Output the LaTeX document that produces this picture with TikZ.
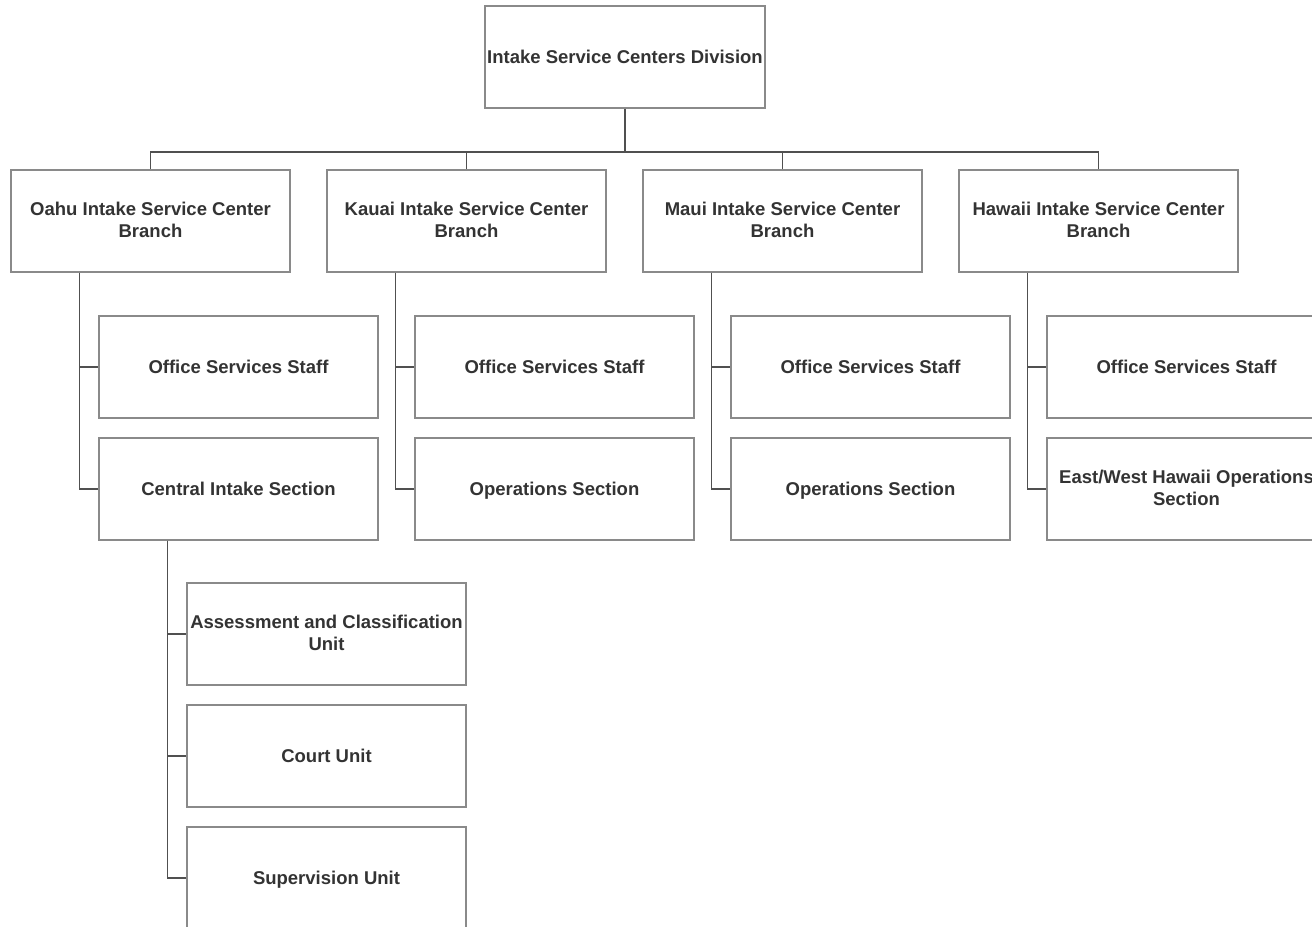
\documentclass[tikz,border=0pt]{standalone}
\usepackage{fontspec}
\setmainfont{Liberation Sans}
\definecolor{boxline}{HTML}{8A8A8A}
\definecolor{conline}{HTML}{505050}
\definecolor{txt}{HTML}{333333}
\newcommand{\mystrut}{\rule[-3bp]{0pt}{19bp}}
\begin{document}
\begin{tikzpicture}[x=1bp,y=-1bp,
  orgbox/.style={draw=boxline,line width=1.2bp,fill=white,rectangle,inner sep=0pt,
    minimum width=279bp,minimum height=102bp,align=center,text=txt,
    font=\fontsize{18.5bp}{22bp}\selectfont\bfseries,
    execute at begin node=\mystrut, execute at end node=\mystrut},
  con/.style={draw=conline,line width=1.2bp}]
\useasboundingbox (0,0) rectangle (1312,926);
\clip (0,0) rectangle (1312,926);
\fill[white] (0,0) rectangle (1312,926);
% top
\node[orgbox,minimum width=280bp] (top) at (625,57) {Intake Service Centers Division};
% branches
\node[orgbox] (oahu) at (150.5,221) {Oahu Intake Service Center\\Branch};
\node[orgbox] (kauai) at (466.5,221) {Kauai Intake Service Center\\Branch};
\node[orgbox] (maui) at (782.5,221) {Maui Intake Service Center\\Branch};
\node[orgbox] (hawaii) at (1098.5,221) {Hawaii Intake Service Center\\Branch};
% children
\node[orgbox] (oos) at (238.5,367) {Office Services Staff};
\node[orgbox] (cis) at (238.5,489) {Central Intake Section};
\node[orgbox] (kos) at (554.5,367) {Office Services Staff};
\node[orgbox] (kops) at (554.5,489) {Operations Section};
\node[orgbox] (mos) at (870.5,367) {Office Services Staff};
\node[orgbox] (mops) at (870.5,489) {Operations Section};
\node[orgbox] (hos) at (1186.5,367) {Office Services Staff};
\node[orgbox] (hops) at (1186.5,489) {East/West Hawaii Operations\\Section};
% grandchildren
\node[orgbox] (acu) at (326.5,634) {Assessment and Classification\\Unit};
\node[orgbox] (cu) at (326.5,756) {Court Unit};
\node[orgbox] (su) at (326.5,878) {Supervision Unit};
% connectors
\coordinate (bus) at (625,152);
\draw[con] (top.south) -- (bus);
\draw[con] (bus) -| (oahu.north);
\draw[con] (bus) -| (kauai.north);
\draw[con] (bus) -| (maui.north);
\draw[con] (bus) -| (hawaii.north);
\draw[con] ([xshift=69bp]oahu.south west) |- (oos.west);
\draw[con] ([xshift=69bp]oahu.south west) |- (cis.west);
\draw[con] ([xshift=69bp]kauai.south west) |- (kos.west);
\draw[con] ([xshift=69bp]kauai.south west) |- (kops.west);
\draw[con] ([xshift=69bp]maui.south west) |- (mos.west);
\draw[con] ([xshift=69bp]maui.south west) |- (mops.west);
\draw[con] ([xshift=69bp]hawaii.south west) |- (hos.west);
\draw[con] ([xshift=69bp]hawaii.south west) |- (hops.west);
\draw[con] ([xshift=69bp]cis.south west) |- (acu.west);
\draw[con] ([xshift=69bp]cis.south west) |- (cu.west);
\draw[con] ([xshift=69bp]cis.south west) |- (su.west);
\end{tikzpicture}
\end{document}
